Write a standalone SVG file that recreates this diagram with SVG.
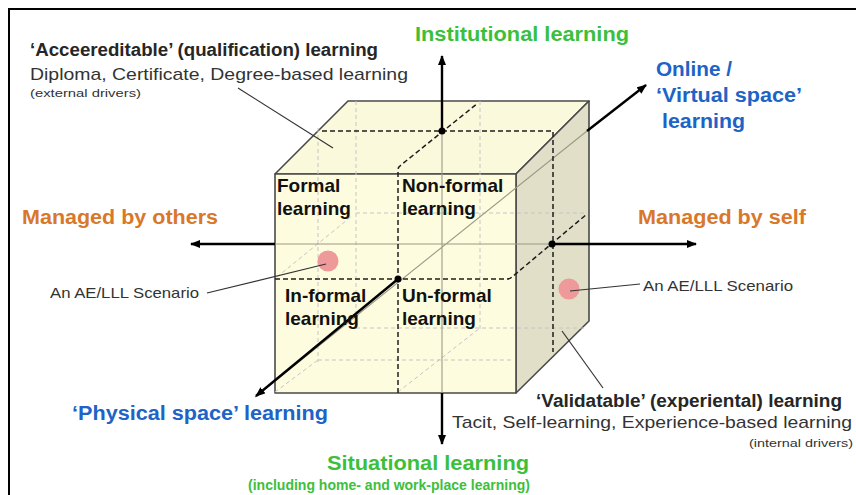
<svg xmlns="http://www.w3.org/2000/svg" width="856" height="495" viewBox="0 0 856 495">
<defs>
<marker id="ah" markerUnits="userSpaceOnUse" markerWidth="10" markerHeight="8" refX="9" refY="4" viewBox="0 0 10 8" orient="auto">
<path d="M0,0 L10,4 L0,8 z" fill="#000"/>
</marker>
<style>
text{font-family:"Liberation Sans",Arial,sans-serif}
.b{font-weight:bold}
.green{fill:#3CC03C}
.blue{fill:#2063C6}
.orange{fill:#D9772A}
.dark{fill:#262626}
.reg{fill:#333}
.cell{font-size:19px;font-weight:bold;fill:#111}
.edge{stroke:#4a4a4a;stroke-width:1.6;stroke-linejoin:round}
.grid{fill:none;stroke:#c4c4c4;stroke-width:1;stroke-dasharray:4 3}
.bdash{fill:none;stroke:#1e1e1e;stroke-width:1.5;stroke-dasharray:5 3}
.thin{fill:none;stroke:#9a9a86;stroke-width:1.1}
.axis{fill:none;stroke:#000;stroke-width:2.4}
.lead{fill:none;stroke:#333;stroke-width:1.2}
.dot{fill:#000}
.scen{fill:#EE9A9A}
</style>
</defs>
<path d="M9,495 V9 H856" fill="none" stroke="#000" stroke-width="2"/>

<g id="cube">
<polygon class="edge" points="275,174 348,101 589,101 516,174" fill="#FBF9DC"/>
<polygon class="edge" points="516,174 589,101 589,321 516,393" fill="#E1DFC8"/>
<rect class="edge" x="275" y="174" width="241" height="219" fill="#FEFCDF"/>
<!-- light grid -->
<path class="grid" d="M318,128 V362 M356,101 V330 M480,101 V330 M356,213 H587 M356,328 H587 M318,360 H512 M277,277 L352,216 M275,392 L318,360 M398,392 L480,328"/>
<!-- thin solid lines -->
<path class="thin" d="M442,131 V393 M275,244 H552 M255,397 L587,131"/>
<!-- black dashed inner planes -->
<path class="bdash" d="M322,131 H553 V352 M398,393 V170 Q398,167 401,165 L478,103 M275,279 H507 Q510,279 512,277 L587,214"/>
<circle class="scen" cx="328" cy="261" r="10.5"/>
<circle class="scen" cx="569" cy="289" r="10.5"/>
</g>

<g id="connectors">
<path class="axis" d="M442,131 V56" marker-end="url(#ah)"/>
<path class="axis" d="M442,393 V444" marker-end="url(#ah)"/>
<path class="axis" d="M275,244 H191" marker-end="url(#ah)"/>
<path class="axis" d="M552,244 H696" marker-end="url(#ah)"/>
<path class="axis" d="M587,131 L646,85" marker-end="url(#ah)"/>
<path class="axis" d="M398,279 L256,396" marker-end="url(#ah)"/>
<circle class="dot" cx="442" cy="131" r="3.5"/>
<circle class="dot" cx="552" cy="244" r="3.5"/>
<circle class="dot" cx="398" cy="279" r="3.5"/>
<path class="lead" d="M238,88 L333,148"/>
<path class="lead" d="M207,293 L326,264"/>
<path class="lead" d="M570,291 L640,284"/>
<path class="lead" d="M562,331 L603,388"/>
</g>

<g id="accreditable">
<text x="30" y="56" class="b dark" font-size="18" textLength="348" lengthAdjust="spacingAndGlyphs">‘Acceereditable’ (qualification) learning</text>
<text x="30" y="80" class="reg" font-size="17" textLength="378" lengthAdjust="spacingAndGlyphs">Diploma, Certificate, Degree-based learning</text>
<text x="30" y="97" class="reg" font-size="11" textLength="111" lengthAdjust="spacingAndGlyphs">(external drivers)</text>
</g>

<g id="institutional">
<text x="415" y="41" class="b green" font-size="20" textLength="214" lengthAdjust="spacingAndGlyphs">Institutional learning</text>
</g>

<g id="online">
<text x="656" y="76" class="b blue" font-size="20" textLength="76" lengthAdjust="spacingAndGlyphs">Online /</text>
<text x="656" y="102" class="b blue" font-size="20" textLength="146" lengthAdjust="spacingAndGlyphs">‘Virtual space’</text>
<text x="662" y="128" class="b blue" font-size="20" textLength="83" lengthAdjust="spacingAndGlyphs">learning</text>
</g>

<g id="managed-others">
<text x="22" y="224" class="b orange" font-size="20" textLength="196" lengthAdjust="spacingAndGlyphs">Managed by others</text>
</g>

<g id="managed-self">
<text x="638" y="224" class="b orange" font-size="20" textLength="168" lengthAdjust="spacingAndGlyphs">Managed by self</text>
</g>

<g id="formal">
<text x="277" y="192" class="cell">Formal</text>
<text x="277" y="215" class="cell">learning</text>
</g>
<g id="non-formal">
<text x="402" y="192" class="cell">Non-formal</text>
<text x="402" y="215" class="cell">learning</text>
</g>
<g id="in-formal">
<text x="285" y="302" class="cell">In-formal</text>
<text x="285" y="325" class="cell">learning</text>
</g>
<g id="un-formal">
<text x="402" y="302" class="cell">Un-formal</text>
<text x="402" y="325" class="cell">learning</text>
</g>

<g id="scenario-left">
<text x="50" y="298" class="reg" font-size="15" textLength="149" lengthAdjust="spacingAndGlyphs">An AE/LLL Scenario</text>
</g>
<g id="scenario-right">
<text x="643" y="291" class="reg" font-size="15" textLength="150" lengthAdjust="spacingAndGlyphs">An AE/LLL Scenario</text>
</g>

<g id="physical">
<text x="72" y="420" class="b blue" font-size="20" textLength="256" lengthAdjust="spacingAndGlyphs">‘Physical space’ learning</text>
</g>

<g id="validatable">
<text x="536" y="407" class="b dark" font-size="18" textLength="306" lengthAdjust="spacingAndGlyphs">‘Validatable’ (experiental) learning</text>
<text x="452" y="428" class="reg" font-size="17" textLength="400" lengthAdjust="spacingAndGlyphs">Tacit, Self-learning, Experience-based learning</text>
<text x="749" y="447" class="reg" font-size="11" textLength="104" lengthAdjust="spacingAndGlyphs">(internal drivers)</text>
</g>

<g id="situational">
<text x="327" y="470" class="b green" font-size="20" textLength="202" lengthAdjust="spacingAndGlyphs">Situational learning</text>
<text x="248" y="490" class="b green" font-size="14.5" textLength="282" lengthAdjust="spacingAndGlyphs">(including home- and work-place learning)</text>
</g>
</svg>
